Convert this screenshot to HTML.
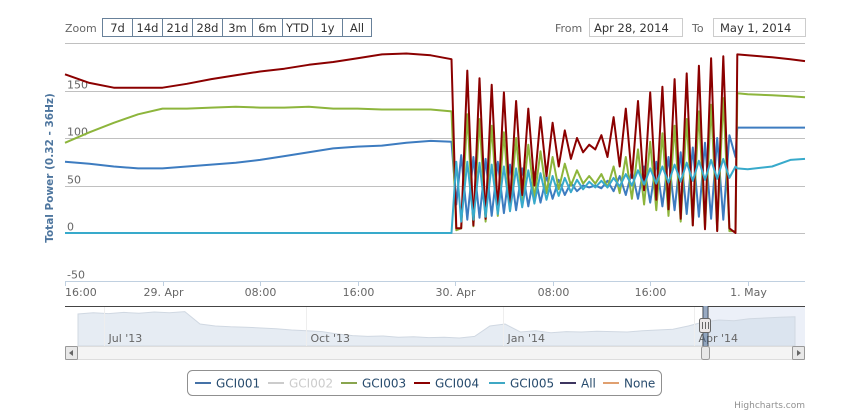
<!DOCTYPE html>
<html><head><meta charset="utf-8"><style>
html,body{margin:0;padding:0;background:#fff;}
svg{display:block;font-family:"DejaVu Sans","Liberation Sans",sans-serif;}
</style></head><body>
<svg id="chart" width="855" height="420" viewBox="0 0 855 420">
<g>
<text x="65" y="32" font-size="11" fill="#666">Zoom</text>
<g id="zoombtns"></g>
<text x="555" y="32" font-size="11" fill="#666">From</text>
<rect x="589.5" y="18.5" width="93" height="18" fill="#fff" stroke="#ccc"/>
<text x="594" y="32" font-size="11.5" fill="#333">Apr 28, 2014</text>
<text x="692" y="32" font-size="11" fill="#666">To</text>
<rect x="713.5" y="18.5" width="92" height="18" fill="#fff" stroke="#ccc"/>
<text x="720" y="32" font-size="11.5" fill="#333">May 1, 2014</text>
</g>
<g id="grid"></g>
<g id="ylabels"></g>
<text transform="translate(53,168) rotate(-90)" text-anchor="middle" font-size="10.5" font-weight="bold" fill="#4d759e">Total Power (0.32 - 36Hz)</text>
<g id="xaxis"></g>
<g id="series"></g>
<g id="nav"></g>
<g id="legend"></g>
<text x="805" y="408" text-anchor="end" font-size="9" fill="#909090">Highcharts.com</text>
</svg>
<script>
const hours=[0,2,4,6,8,10,12,14,16,18,20,22,24,26,28,30,31.7,
32.1,32.5,33,33.5,34,34.5,35,35.5,36,36.5,37,37.5,38,38.5,39,39.5,40,40.5,41,41.5,42,42.5,43,43.5,44,44.5,45,45.5,46,46.5,47,47.5,48,48.5,49,49.5,50,50.5,51,51.5,52,52.5,53,53.5,54,54.5,55,
55.15,56,58,59.5,60.7];
const gci004=[167,158,153,153,153,157,162,166,170,173,177,180,184,188,189,187,183,
5,5,171,8,163,15,156,22,148,30,139,40,131,50,122,60,116,70,108,78,100,85,93,88,103,80,122,70,131,58,139,45,148,35,154,25,162,15,168,8,176,4,184,2,186,5,0,
188,187,185,183,181];
const gci003=[95,106,116,125,131,131,132,133,132,132,133,131,131,130,130,130,128,
3,5,125,7,120,12,113,18,106,24,100,30,93,36,86,42,80,46,73,50,66,52,60,52,62,48,70,42,80,36,88,30,96,24,105,18,113,12,120,8,128,5,135,3,142,2,2,
147,146,145,144,143];
const gci001=[75,73,70,68,68,70,72,74,77,81,85,89,91,92,95,97,96,
30,82,14,80,16,78,18,75,21,72,24,68,28,64,32,60,36,56,40,53,44,50,48,50,47,55,44,60,40,65,36,70,32,75,28,80,24,85,20,90,17,95,15,100,14,103,80,
111,111,111,111,111];
const gci005=[0,0,0,0,0,0,0,0,0,0,0,0,0,0,0,0,0,
75,12,75,14,74,17,72,20,70,23,68,27,66,31,63,35,60,39,58,43,56,46,54,48,55,48,58,49,62,50,66,51,68,52,70,53,72,54,74,55,76,56,77,57,78,58,70,
68,67,70,77,78];
const yTicks=[200,150,100,50,0,-50];
const xTickHours=[0,8,16,24,32,40,48,56];
const xTickLabels=["16:00","29. Apr","08:00","16:00","30. Apr","08:00","16:00","1. May"];
const navVals=[80,83,81,84,82,85,83,86,55,50,48,47,45,43,40,38,36,30,26,24,25,22,23,21,22,20,24,50,55,35,38,33,36,35,37,36,35,38,40,42,50,60,65,63,68,70,72,73];
const navTickLabels=["Jul '13","Oct '13","Jan '14","Apr '14"];
const navTickPos=[0.053,0.325,0.592,0.85];
const zoomLabels=["7d","14d","21d","28d","3m","6m","YTD","1y","All"];
const legendNames=["GCI001","GCI002","GCI003","GCI004","GCI005","All","None"];
const legendColors=["#4572a7","#ccc","#89a54e","#8b0000","#3fa8c4","#3d3560","#e0a070"];

const NS="http://www.w3.org/2000/svg";
function mk(tag,attrs,parent,txt){const e=document.createElementNS(NS,tag);for(const k in attrs)e.setAttribute(k,attrs[k]);if(txt!==undefined)e.textContent=txt;parent.appendChild(e);return e;}
const X0=65,X1=805,Hmax=60.7;
const xS=h=>X0+(X1-X0)*h/Hmax;
const yS=v=>233-v*0.95;

const zb=document.getElementById('zoombtns');
const bw=[30,30,30,30,30,30,30,30,29];
let bx=102.5;
zoomLabels.forEach((l,i)=>{
 const r=mk('rect',{x:bx,y:18.5,width:bw[i],height:18,fill:'#fff',stroke:'#68819a'},zb);
 
 
 const t=mk('text',{x:bx+bw[i]/2,y:32,'text-anchor':'middle','font-size':11.5,fill:'#333'},zb,l);
 
 
 bx+=bw[i];
});

const g=document.getElementById('grid'),yl=document.getElementById('ylabels');
yTicks.forEach(v=>{
 const y=Math.round(yS(v))+0.5;
 const ln=mk('line',{x1:X0,x2:X1,y1:y,y2:y,stroke:'#c0c0c0','stroke-width':1},g);
 
 
 if(v!==200){
  const t=mk('text',{x:67,y:y-3,'font-size':11,fill:'#666'},yl,String(v));
  
  
 }
});
const xa=document.getElementById('xaxis');
mk('line',{x1:X0,x2:X1,y1:281.5,y2:281.5,stroke:'#c0d0e0'},xa);
xTickHours.forEach((h,i)=>{
 const x=Math.round(xS(h))+0.5;
 const tk=mk('line',{x1:x,x2:x,y1:281,y2:286,stroke:'#c0d0e0'},xa);
 
 
 const t=mk('text',{x:i===0?X0:x,y:296,'text-anchor':i===0?'start':'middle','font-size':11,fill:'#666'},xa,xTickLabels[i]);
 
 
});
const sg=document.getElementById('series');
[[gci001,'#3d7cc0','gci001-line'],[gci003,'#8db53c','gci003-line'],[gci004,'#8b0000','gci004-line'],[gci005,'#38aacb','gci005-line']].forEach(([arr,c,n])=>{
 const d=arr.map((v,i)=>(i?'L':'M')+xS(hours[i]).toFixed(1)+' '+yS(v).toFixed(1)).join(' ');
 const p=mk('path',{d:d,fill:'none',stroke:c,'stroke-width':2,'stroke-linejoin':'round'},sg);
 
 
});
const nv=document.getElementById('nav');
const NX0=78,NX1=795,NB=346;
const nx=i=>NX0+(NX1-NX0)*i/(navVals.length-1);
const ny=v=>NB-v*0.4;
const hx=703;
mk('rect',{x:hx,y:306,width:X1-hx,height:40,fill:'rgba(102,133,194,0.12)'},nv);
let ad='M'+NX0+' '+NB+' '+navVals.map((v,i)=>'L'+nx(i).toFixed(1)+' '+ny(v).toFixed(1)).join(' ')+' L'+NX1+' '+NB+' Z';
const area=mk('path',{d:ad,fill:'rgba(200,212,228,0.45)',stroke:'#d0d8e2','stroke-width':1},nv);


navTickPos.forEach((p,i)=>{
 const x=Math.round(X0+(X1-X0)*p)+0.5;
 mk('line',{x1:x,x2:x,y1:306,y2:346,stroke:'#eee'},nv);
 const t=mk('text',{x:x+4,y:342,'font-size':11,fill:'#666'},nv,navTickLabels[i]);
 
 
});
mk('path',{d:`M${X0} 306.5 L${hx} 306.5 L${hx} 346 M${hx+5} 346 L${hx+5} 306.5 L${X1} 306.5`,fill:'none',stroke:'#444','stroke-width':1},nv);
mk('rect',{x:hx,y:306,width:5,height:40,fill:'rgba(70,100,140,0.5)'},nv);
const hd=mk('rect',{x:hx-3.5,y:318.5,width:11,height:14,rx:2,fill:'#ebe7e8',stroke:'#666'},nv);


[hx-0.5,hx+2.5,hx+5.5].forEach(x=>mk('line',{x1:x,x2:x,y1:322,y2:329,stroke:'#666'},nv));
const sb=mk('rect',{x:65.5,y:346.5,width:739,height:13,fill:'#f4f4f4',stroke:'#ddd'},nv);


const b1=mk('rect',{x:65.5,y:346.5,width:12,height:13,rx:1,fill:'#e8e8e8',stroke:'#999'},nv);


mk('path',{d:'M73 350 L69 353 L73 356 Z',fill:'#666'},nv);
const b2=mk('rect',{x:792.5,y:346.5,width:12,height:13,rx:1,fill:'#e8e8e8',stroke:'#999'},nv);


mk('path',{d:'M797 350 L801 353 L797 356 Z',fill:'#666'},nv);
const th=mk('rect',{x:hx-1.5,y:346.5,width:8,height:13,rx:2,fill:'#e8e8e8',stroke:'#999'},nv);


const lg=document.getElementById('legend');
const lb=mk('rect',{x:187.5,y:370.5,width:474,height:25,rx:5,fill:'#fff',stroke:'#909090'},lg);


const lsx=[195,268,341,414,489,560,603];
legendNames.forEach((n,i)=>{
 const it=mk('g',{},lg);
 
 
 mk('line',{x1:lsx[i],x2:lsx[i]+16,y1:383,y2:383,stroke:legendColors[i],'stroke-width':2},it);
 mk('text',{x:lsx[i]+21,y:387.5,'font-size':12,fill:i===1?'#ccc':'#274b6d'},it,n);
});
</script>
</body></html>
